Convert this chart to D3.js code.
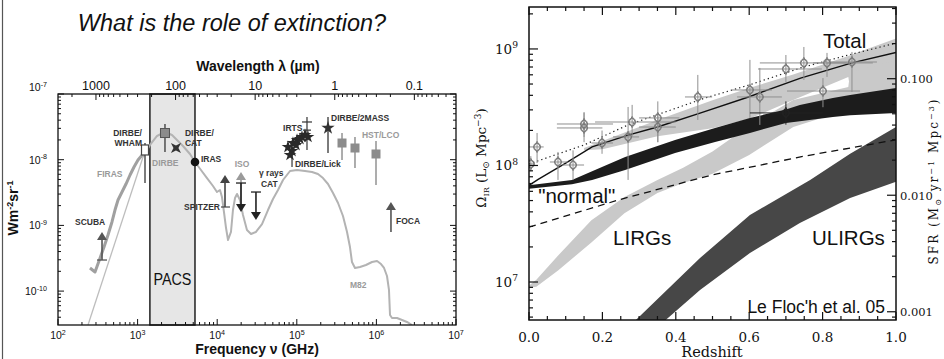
<!DOCTYPE html>
<html><head><meta charset="utf-8">
<script src="https://cdn.jsdelivr.net/npm/d3@7/dist/d3.min.js"></script>
<style>html,body{margin:0;padding:0;background:#fff;}svg{display:block;}</style>
</head><body>
<svg id="chart" width="944" height="359" xmlns="http://www.w3.org/2000/svg"></svg>
<script>
// ============ LEFT PANEL DATA: log10 frequency (GHz), log10 intensity (W m^-2 sr^-1) ============
const sedLogNu = [3.068,3.156,3.244,3.344,3.432,3.495,3.570,3.658,3.721,3.796,3.872,3.947,3.997,4.035,4.060,4.085,4.111,4.136,4.173,4.198,4.224,4.249,4.286,4.324,4.374,4.425,4.487,4.563,4.638,4.701,4.764,4.827,4.915,5.003,5.103,5.191,5.266,5.329,5.392,5.455,5.518,5.580,5.631,5.668,5.693,5.731,5.794,5.869,5.945,6.008,6.058,6.096,6.133,6.158,6.171,6.196,6.259,6.322,6.384,6.447];
const sedLogI  = [-7.959,-7.776,-7.639,-7.578,-7.624,-7.700,-7.791,-7.913,-8.035,-8.157,-8.279,-8.400,-8.492,-8.461,-8.568,-8.796,-9.040,-9.222,-9.100,-8.766,-8.583,-8.522,-8.613,-8.842,-9.070,-9.131,-9.100,-8.979,-8.766,-8.598,-8.461,-8.309,-8.172,-8.157,-8.172,-8.187,-8.218,-8.279,-8.370,-8.507,-8.659,-8.857,-9.100,-9.329,-9.557,-9.648,-9.633,-9.603,-9.557,-9.542,-9.588,-9.648,-9.770,-9.983,-10.364,-10.409,-10.409,-10.440,-10.470,-10.516];
const firasLogNu = [2.402,2.465,2.515,2.578,2.628,2.678,2.716,2.754,2.804,2.854,2.905,2.955,3.005,3.068];
const firasLogI  = [-9.648,-9.709,-9.542,-9.329,-9.146,-8.948,-8.766,-8.613,-8.492,-8.370,-8.233,-8.111,-8.005,-7.913];
const powerLawLogNu = [2.377,3.068];
const powerLawLogI  = [-10.516,-7.959];
const pacsLambdaUm = [210,57];

// measurement points with vertical error bars
const ptName   = ['DIRBE/WHAM','DIRBE','DIRBE/CAT','IRAS','DIRBE/2MASS','HST/LCO a','HST/LCO b','HST/LCO c'];
const ptLogNu  = [3.093,3.344,3.482,3.721,5.392,5.568,5.731,5.995];
const ptLogI   = [-7.852,-7.594,-7.822,-8.035,-7.518,-7.746,-7.822,-7.913];
const ptErrHi  = [-7.746,-7.457,null,null,-7.350,-7.594,-7.655,-7.715];
const ptErrLo  = [-8.355,-7.883,null,null,-7.898,-8.005,-8.126,-8.385];
const ptSymbol = ['openSquare','graySquare','star4','circle','star','graySquare','graySquare','graySquare'];

const irtsLogNu = [4.889,4.940,4.952,5.003,5.065,5.103,5.141,4.915,5.040,4.990];
const irtsLogI  = [-7.807,-7.868,-7.746,-7.700,-7.654,-7.624,-7.654,-7.928,-7.685,-7.776];

// limits (arrows): from -> to
const arrowName   = ['SCUBA','SPITZER','ISO','FOCA','ISO','CAT'];
const arrowLogNu  = [2.553,4.098,4.299,6.183,4.299,4.487];
const arrowFrom   = [-9.527,-8.720,-8.720,-9.100,-8.355,-8.492];
const arrowTo     = [-9.100,-8.233,-8.187,-8.644,-8.796,-8.918];
const arrowShade  = ['#555','#444','#9a9a9a','#555','#222','#222'];

const lblText  = ['DIRBE/','WHAM','DIRBE/','CAT','IRAS','DIRBE','FIRAS','SCUBA','SPITZER','ISO','\u03b3 rays','CAT','IRTS','DIRBE/2MASS','HST/LCO','DIRBE/Lick','FOCA','M82'];
const lblLogNu = [3.055,3.055,3.595,3.595,3.796,3.181,2.490,2.214,4.035,4.312,4.525,4.550,4.827,5.430,5.819,4.977,6.246,5.668];
const lblLogI  = [-7.639,-7.791,-7.639,-7.791,-8.035,-8.096,-8.263,-8.994,-8.766,-8.111,-8.248,-8.416,-7.563,-7.411,-7.670,-8.111,-8.979,-9.953];
const lblAnchor= ['end','end','start','start','start','start','start','start','end','middle','start','start','start','start','start','start','start','start'];
const lblGray  = [0,0,0,0,0,1,1,0,0,1,0,0,0,0,1,0,0,1];

const xDecades = [2,3,4,5,6,7];
const yDecades = [-7,-8,-9,-10];
const lambdaLabels = [1000,100,10,1,0.1];

// ============ RIGHT PANEL DATA: redshift, log10 Omega_IR (Lsun Mpc^-3) ============
const totalZ     = [0.15,0.2,0.35,0.5,0.6,0.72,0.87,0.875,1.0];
const totalUpper = [8.15,8.21,8.39,8.56,8.665,8.78,8.94,8.945,9.09];
const totalLower = [8.13,8.14,8.25,8.32,8.40,8.562,8.76,8.66,8.72];
const lirgZ      = [0,0.02,0.08,0.17,0.26,0.35,0.42,0.5,0.6,0.72,0.87,0.875,1.0];
const lirgUpper  = [6.97,7.02,7.23,7.53,7.73,7.876,7.98,8.12,8.34,8.562,8.674,8.80,8.90];
const lirgLower  = [6.95,6.96,7.10,7.34,7.59,7.764,7.85,7.93,8.09,8.33,8.48,8.48,8.56];
const normalZ     = [0,0.117,0.172,0.262,0.398,0.507,0.602,0.70,0.738,0.828,0.875,1.0];
const normalUpper = [7.83,7.876,7.95,8.073,8.219,8.322,8.408,8.48,8.519,8.58,8.605,8.665];
const normalLower = [7.80,7.84,7.876,7.961,8.107,8.202,8.279,8.365,8.38,8.416,8.43,8.451];
const ulirgUpperZ = [0.28,0.466,0.602,0.766,0.875,1.0];
const ulirgUpper  = [6.64,7.206,7.575,7.876,8.10,8.33];
const ulirgLowerZ = [0.36,0.466,0.602,0.738,0.875,1.0];
const ulirgLower  = [6.64,6.931,7.249,7.506,7.721,7.86];
const totalFitZ   = [0,0.025,0.1,0.172,0.27,0.35,0.466,0.6,0.74,0.88,1.0];
const totalFit    = [7.83,7.88,8.02,8.16,8.26,8.33,8.45,8.59,8.75,8.88,8.97];
const dottedZ     = [0,0.15,0.27,0.48,0.60,0.74,0.87,1.0];
const dottedLog   = [8.013,8.176,8.348,8.579,8.691,8.837,8.948,9.05];
const dashedZ     = [0,0.25,0.5,0.75,1.0];
const dashedLog   = [7.47,7.71,7.92,8.08,8.22];

const obsZ     = [0.005,0.022,0.079,0.12,0.15,0.15,0.199,0.27,0.281,0.351,0.351,0.46,0.602,0.629,0.70,0.749,0.812,0.880,0.801,0.70];
const obsLog   = [8.013,8.159,8.030,8.004,8.356,8.322,8.193,8.245,8.373,8.408,8.330,8.588,8.648,8.588,8.828,8.880,8.880,8.888,8.639,8.451];
const obsZLo   = [0.0,0.0,0.057,0.09,0.076,0.076,0.17,0.229,0.18,0.30,0.30,0.425,0.553,0.567,0.624,0.629,0.774,0.815,0.703,0.602];
const obsZHi   = [0.015,0.04,0.106,0.15,0.229,0.20,0.229,0.30,0.40,0.41,0.40,0.499,0.662,0.689,0.798,0.866,0.937,0.948,0.902,0.801];
const obsLogLo = [7.95,8.021,7.876,7.876,8.245,8.20,8.10,7.876,8.25,8.20,8.20,8.391,8.408,8.348,8.717,8.734,8.760,8.631,8.50,8.35];
const obsLogHi = [8.08,8.279,8.116,8.13,8.459,8.45,8.30,8.502,8.52,8.55,8.45,8.777,8.906,8.837,8.948,9.017,8.966,8.974,8.75,8.55];
const obsDark  = [0,0,0,0,0,0,0,0,0,0,0,0,0,0,0,0,0,0,0,1];

const zMajor = [0,0.2,0.4,0.6,0.8,1.0];
const omegaDecades = [7,8,9];
const sfrLabels = [0.001,0.010,0.100];
const SFR_PER_LIR = 1.8e-10;

const rLblText = ['Total','"normal"','LIRGs','ULIRGs'];
const rLblZ    = [0.801,0.025,0.229,0.771];
const rLblLog  = [9.009,7.678,7.318,7.318];

// ================= DRAWING =================
const svg = d3.select('#chart');
const defs = svg.append('defs');
const SANS = "'Liberation Sans', Arial, sans-serif";
const SERIF = "'DejaVu Serif', serif";
const p10 = v => Math.pow(10, v);

// slide frame line
svg.append('line').attr('x1',2.5).attr('x2',2.5).attr('y1',0).attr('y2',359).attr('stroke','#555').attr('stroke-width',1.2);

// ---------- LEFT ----------
const L = {x0:58, x1:456, y0:94, y1:325};
const xL = d3.scaleLog().domain([1e2,1e7]).range([L.x0,L.x1]);
const yL = d3.scaleLog().domain([p10(-10.516),1e-7]).range([L.y1,L.y0]);
const C_UM_GHZ = 299792.458;
const lamL = d3.scaleLog().domain([C_UM_GHZ/1e2, C_UM_GHZ/1e7]).range([L.x0,L.x1]);
const PX = v => xL(p10(v)), PY = v => yL(p10(v));

defs.append('clipPath').attr('id','clipL').append('rect')
  .attr('x',L.x0).attr('y',L.y0).attr('width',L.x1-L.x0).attr('height',L.y1-L.y0);

svg.append('text').attr('x',232).attr('y',31).attr('text-anchor','middle')
  .attr('font-family',SANS).attr('font-style','italic').attr('font-size',23.5).attr('fill','#111')
  .text('What is the role of extinction?');

// PACS box
const pacsX0 = xL(C_UM_GHZ/pacsLambdaUm[0]), pacsX1 = xL(C_UM_GHZ/pacsLambdaUm[1]);
svg.append('rect').attr('x',pacsX0).attr('y',L.y0).attr('width',pacsX1-pacsX0).attr('height',L.y1-L.y0)
  .attr('fill','#e6e6e6').attr('stroke','#111').attr('stroke-width',1.4);

const gLc = svg.append('g').attr('clip-path','url(#clipL)');
const lineL = d3.line().x(d=>PX(d[0])).y(d=>PY(d[1]));
gLc.append('path').attr('d',lineL(d3.zip(powerLawLogNu,powerLawLogI))).attr('fill','none').attr('stroke','#bdbdbd').attr('stroke-width',1.3);
gLc.append('path').attr('d',lineL(d3.zip(firasLogNu,firasLogI))).attr('fill','none').attr('stroke','#a0a0a0').attr('stroke-width',3).attr('stroke-linejoin','round');
gLc.append('path').attr('d',lineL(d3.zip(sedLogNu,sedLogI))).attr('fill','none').attr('stroke','#b3b3b3').attr('stroke-width',2).attr('stroke-linejoin','round');

svg.append('text').attr('x',(pacsX0+pacsX1)/2).attr('y',PY(-9.907)).attr('text-anchor','middle')
  .attr('font-family',SANS).attr('font-size',16).attr('textLength',38).attr('lengthAdjust','spacingAndGlyphs').attr('fill','#111').text('PACS');

// arrows
arrowName.forEach((n,i)=>{
  const x = PX(arrowLogNu[i]), yf = PY(arrowFrom[i]), yt = PY(arrowTo[i]);
  const dir = yt < yf ? -1 : 1; // -1 up
  const col = arrowShade[i];
  svg.append('line').attr('x1',x).attr('x2',x).attr('y1',yf).attr('y2',yt-dir*7).attr('stroke',col).attr('stroke-width',1.6);
  svg.append('path').attr('d',`M${x-5},${yt-dir*8}L${x+5},${yt-dir*8}L${x},${yt}Z`).attr('fill',col);
  if (n==='SCUBA' || n==='CAT' || (n==='ISO' && dir>0)) {
    svg.append('line').attr('x1',x-5).attr('x2',x+5).attr('y1',yf).attr('y2',yf).attr('stroke',col).attr('stroke-width',1.3);
  }
  if (n==='SPITZER') {
    svg.append('line').attr('x1',PX(4.035)+1).attr('x2',x+5).attr('y1',yf).attr('y2',yf).attr('stroke','#444').attr('stroke-width',1.2);
  }
});

// error bars and markers
ptName.forEach((n,i)=>{
  if (ptErrHi[i]!==null) {
    svg.append('line').attr('x1',PX(ptLogNu[i])).attr('x2',PX(ptLogNu[i])).attr('y1',PY(ptErrHi[i])).attr('y2',PY(ptErrLo[i]))
      .attr('stroke', ptSymbol[i]==='graySquare' && i>4 ? '#8a8a8a' : '#444').attr('stroke-width',1.4);
  }
});
const star4 = {draw(ctx,size){const r=Math.sqrt(size)*0.75, ri=r*0.35;for(let k=0;k<8;k++){const a=Math.PI/4+k*Math.PI/4;const rr=k%2?ri:r;const px=rr*Math.cos(a),py=rr*Math.sin(a);if(k===0)ctx.moveTo(px,py);else ctx.lineTo(px,py);}ctx.closePath();}};
ptName.forEach((n,i)=>{
  const x=PX(ptLogNu[i]), y=PY(ptLogI[i]);
  const s = ptSymbol[i];
  if (s==='openSquare') svg.append('rect').attr('x',x-3.5).attr('y',y-5).attr('width',7).attr('height',10).attr('fill','#fff').attr('stroke','#444').attr('stroke-width',1.2);
  else if (s==='graySquare') svg.append('rect').attr('x',x-4.5).attr('y',y-4.5).attr('width',9).attr('height',9).attr('fill','#8c8c8c').attr('stroke', i===1?'#555':'none');
  else if (s==='circle') svg.append('circle').attr('cx',x).attr('cy',y).attr('r',4.3).attr('fill','#111');
  else if (s==='star') svg.append('path').attr('transform',`translate(${x},${y})`).attr('d',d3.symbol().type(d3.symbolStar).size(55)()).attr('fill','#333');
  else if (s==='star4') svg.append('path').attr('transform',`translate(${x},${y})`).attr('d',d3.symbol().type(star4).size(90)()).attr('fill','#333');
});
// IRTS
svg.append('line').attr('x1',PX(5.128)).attr('x2',PX(5.128)).attr('y1',PY(-7.350)).attr('y2',PY(-7.852)).attr('stroke','#333').attr('stroke-width',1.2);
svg.append('line').attr('x1',PX(5.128)-5).attr('x2',PX(5.128)+5).attr('y1',PY(-7.426)).attr('y2',PY(-7.426)).attr('stroke','#333').attr('stroke-width',1.2);
svg.append('line').attr('x1',PX(5.128)-4).attr('x2',PX(5.128)+4).attr('y1',PY(-7.55)).attr('y2',PY(-7.55)).attr('stroke','#333').attr('stroke-width',1.2);
svg.append('line').attr('x1',PX(4.940)).attr('x2',PX(4.940)).attr('y1',PY(-7.883)).attr('y2',PY(-8.111)).attr('stroke','#333').attr('stroke-width',1.2);
irtsLogNu.forEach((v,i)=>{
  svg.append('path').attr('transform',`translate(${PX(v)},${PY(irtsLogI[i])})`).attr('d',d3.symbol().type(d3.symbolStar).size(50)()).attr('fill','#2a2a2a');
});

// labels
lblText.forEach((t,i)=>{
  svg.append('text').attr('x',PX(lblLogNu[i])).attr('y',PY(lblLogI[i])).attr('text-anchor',lblAnchor[i])
    .attr('font-family',SANS).attr('font-weight','bold').attr('font-size',8.5)
    .attr('fill', lblGray[i] ? '#9a9a9a' : '#333').text(t);
});

// frame
svg.append('rect').attr('x',L.x0).attr('y',L.y0).attr('width',L.x1-L.x0).attr('height',L.y1-L.y0).attr('fill','none').attr('stroke','#111').attr('stroke-width',1.3);

// ticks left panel
const tk = svg.append('g').attr('stroke','#111').attr('stroke-width',1);
xL.ticks().forEach(v=>{
  const x = xL(v); const maj = Math.abs(Math.log10(v)-Math.round(Math.log10(v)))<1e-9; const len = maj?6:3;
  tk.append('line').attr('x1',x).attr('x2',x).attr('y1',L.y1).attr('y2',L.y1-len);
});
lamL.ticks().forEach(v=>{
  const x = lamL(v); if (x<L.x0+0.5||x>L.x1-0.5) return;
  const maj = Math.abs(Math.log10(v)-Math.round(Math.log10(v)))<1e-9; const len = maj?6:3;
  tk.append('line').attr('x1',x).attr('x2',x).attr('y1',L.y0).attr('y2',L.y0+len);
});
yL.ticks().forEach(v=>{
  const y = yL(v); const maj = Math.abs(Math.log10(v)-Math.round(Math.log10(v)))<1e-9; const len = maj?6:3;
  tk.append('line').attr('x1',L.x0).attr('x2',L.x0+len).attr('y1',y).attr('y2',y);
  tk.append('line').attr('x1',L.x1).attr('x2',L.x1-len).attr('y1',y).attr('y2',y);
});
function supLabel(x,y,base,sup,anchor,size,family,weight){
  const t = svg.append('text').attr('x',x).attr('y',y).attr('text-anchor',anchor)
    .attr('font-family',family).attr('font-size',size).attr('fill','#111');
  if (weight) t.attr('font-weight',weight);
  t.append('tspan').text(base);
  t.append('tspan').attr('dy',-size*0.42).attr('font-size',size*0.68).text(sup);
  return t;
}
xDecades.forEach(n=> supLabel(xL(p10(n)), 339, '10', String(n), 'middle', 10.5, SANS));
yDecades.forEach(n=> supLabel(47, yL(p10(n)) + (n===-7 ? -3 : 4), '10', '-'+(-n), 'end', 10.5, SANS));
lambdaLabels.forEach(v=> svg.append('text').attr('x',lamL(v)).attr('y',90).attr('text-anchor','middle')
  .attr('font-family',SANS).attr('font-size',12.5).attr('fill','#111').text(String(v)));

svg.append('text').attr('x',258).attr('y',71).attr('text-anchor','middle').attr('font-family',SANS)
  .attr('font-weight','bold').attr('font-size',14).attr('fill','#111').text('Wavelength \u03bb (\u00b5m)');
svg.append('text').attr('x',257).attr('y',354).attr('text-anchor','middle').attr('font-family',SANS)
  .attr('font-weight','bold').attr('font-size',14).attr('fill','#111').text('Frequency \u03bd (GHz)');
{
  const t = svg.append('text').attr('transform','translate(18,208) rotate(-90)').attr('text-anchor','middle')
    .attr('font-family',SANS).attr('font-weight','bold').attr('font-size',14).attr('fill','#111');
  t.append('tspan').text('Wm');
  t.append('tspan').attr('dy',-5).attr('font-size',9).text('-2');
  t.append('tspan').attr('dy',5).text('sr');
  t.append('tspan').attr('dy',-5).attr('font-size',9).text('-1');
}

// ---------- RIGHT ----------
const R = {x0:529, x1:896, y0:7, y1:320};
const xR = d3.scaleLinear().domain([0,1]).range([R.x0,R.x1]);
const yR = d3.scaleLog().domain([p10(6.674),p10(9.36)]).range([R.y1,R.y0]);
const yS = d3.scaleLog().domain([p10(6.674)*SFR_PER_LIR, p10(9.36)*SFR_PER_LIR]).range([R.y1,R.y0]);
const RY = v => yR(p10(v));
defs.append('clipPath').attr('id','clipR').append('rect')
  .attr('x',R.x0).attr('y',R.y0).attr('width',R.x1-R.x0).attr('height',R.y1-R.y0);
const gR = svg.append('g').attr('clip-path','url(#clipR)');
const lineR = d3.line().x(d=>xR(d[0])).y(d=>RY(d[1]));
function band(zU,up,zLo,lo,fill){
  const pts = d3.zip(zU,up).concat(d3.zip(zLo,lo).reverse());
  gR.append('path').attr('d',lineR(pts)+'Z').attr('fill',fill).attr('stroke','none');
}
band(totalZ,totalUpper,totalZ,totalLower,'#c9c9c9');
band(lirgZ,lirgUpper,lirgZ,lirgLower,'#c9c9c9');
band(normalZ,normalUpper,normalZ,normalLower,'#1c1c1c');
band(ulirgUpperZ,ulirgUpper,ulirgLowerZ,ulirgLower,'#474747');

gR.append('path').attr('d',lineR(d3.zip(dashedZ,dashedLog))).attr('fill','none').attr('stroke','#111').attr('stroke-width',1.3).attr('stroke-dasharray','7,5');
gR.append('path').attr('d',lineR(d3.zip(totalFitZ,totalFit))).attr('fill','none').attr('stroke','#111').attr('stroke-width',1.4);
gR.append('path').attr('d',lineR(d3.zip(dottedZ,dottedLog))).attr('fill','none').attr('stroke','#222').attr('stroke-width',1.2).attr('stroke-dasharray','1.3,3');

// observations
obsZ.forEach((z,i)=>{
  const col = obsDark[i] ? '#222' : '#8f8f8f';
  gR.append('line').attr('x1',xR(obsZLo[i])).attr('x2',xR(obsZHi[i])).attr('y1',RY(obsLog[i])).attr('y2',RY(obsLog[i])).attr('stroke',col).attr('stroke-width',1);
  gR.append('line').attr('x1',xR(z)).attr('x2',xR(z)).attr('y1',RY(obsLogLo[i])).attr('y2',RY(obsLogHi[i])).attr('stroke',col).attr('stroke-width',1);
});
obsZ.forEach((z,i)=>{
  const col = obsDark[i] ? '#222' : '#7a7a7a';
  const x=xR(z), y=RY(obsLog[i]);
  gR.append('circle').attr('cx',x).attr('cy',y).attr('r',3.6).attr('fill','none').attr('stroke',col).attr('stroke-width',1);
  gR.append('path').attr('transform',`translate(${x},${y})`).attr('d',d3.symbol().type(d3.symbolDiamond).size(36)()).attr('fill','none').attr('stroke',col).attr('stroke-width',1);
});

// text in plot
rLblText.forEach((t,i)=>{
  svg.append('text').attr('x',xR(rLblZ[i])).attr('y',RY(rLblLog[i])).attr('font-family',SANS).attr('font-size',20.5).attr('fill','#111').text(t);
});
svg.append('text').attr('x',xR(0.970)).attr('y',RY(6.734)).attr('text-anchor','end').attr('font-family',SANS).attr('font-size',17.5).attr('fill','#111').text("Le Floc'h et al. 05");

// frame
svg.append('rect').attr('x',R.x0).attr('y',R.y0).attr('width',R.x1-R.x0).attr('height',R.y1-R.y0).attr('fill','none').attr('stroke','#111').attr('stroke-width',1.5);

const tr = svg.append('g').attr('stroke','#111').attr('stroke-width',1.2);
d3.range(0,1.0001,0.05).forEach(z=>{
  const x = xR(z); const maj = Math.abs(z*5-Math.round(z*5))<1e-6; const len = maj?8:4;
  tr.append('line').attr('x1',x).attr('x2',x).attr('y1',R.y1).attr('y2',R.y1-len);
  tr.append('line').attr('x1',x).attr('x2',x).attr('y1',R.y0).attr('y2',R.y0+len);
});
yR.ticks().forEach(v=>{
  const y = yR(v); const maj = Math.abs(Math.log10(v)-Math.round(Math.log10(v)))<1e-9; const len = maj?9:4;
  tr.append('line').attr('x1',R.x0).attr('x2',R.x0+len).attr('y1',y).attr('y2',y);
});
yS.ticks().forEach(v=>{
  const y = yS(v); const lg=Math.log10(v); const maj = Math.abs(lg-Math.round(lg))<1e-9; const len = maj?9:4;
  tr.append('line').attr('x1',R.x1).attr('x2',R.x1-len).attr('y1',y).attr('y2',y);
});
zMajor.forEach(z=> svg.append('text').attr('x',xR(z)).attr('y',342).attr('text-anchor','middle')
  .attr('font-family',SERIF).attr('font-size',13.5).attr('fill','#111').text(z.toFixed(1)));
omegaDecades.forEach(n=> supLabel(518, yR(p10(n))+5, '10', String(n), 'end', 13.5, SERIF));
sfrLabels.forEach(v=> svg.append('text').attr('x',900).attr('y',yS(v)+4.5).attr('font-family',SERIF)
  .attr('font-size',11.5).attr('fill','#111').text(v.toFixed(3)));
svg.append('text').attr('x',712).attr('y',357).attr('text-anchor','middle').attr('font-family',SERIF)
  .attr('font-size',14.5).attr('fill','#111').text('Redshift');
{
  const t = svg.append('text').attr('transform','translate(486,158) rotate(-90)').attr('text-anchor','middle')
    .attr('font-family',SERIF).attr('font-size',13.5).attr('fill','#111');
  t.append('tspan').text('\u03a9');
  t.append('tspan').attr('dy',3).attr('font-size',8).text('IR');
  t.append('tspan').attr('dy',-3).text(' (L');
  t.append('tspan').attr('dy',3).attr('font-size',9).text('\u2299');
  t.append('tspan').attr('dy',-3).text(' Mpc');
  t.append('tspan').attr('dy',-5).attr('font-size',9).text('\u22123');
  t.append('tspan').attr('dy',5).text(')');
}
{
  const t = svg.append('text').attr('transform','translate(938,182) rotate(-90)').attr('text-anchor','middle')
    .attr('font-family',SERIF).attr('font-size',12).attr('fill','#111')
    .attr('textLength',165).attr('lengthAdjust','spacing');
  t.append('tspan').text('SFR (M');
  t.append('tspan').attr('dy',3).attr('font-size',8).text('\u2299');
  t.append('tspan').attr('dy',-3).text(' yr');
  t.append('tspan').attr('dy',-4).attr('font-size',8).text('\u22121');
  t.append('tspan').attr('dy',4).text(' Mpc');
  t.append('tspan').attr('dy',-4).attr('font-size',8).text('\u22123');
  t.append('tspan').attr('dy',4).text(')');
}
</script>
</body></html>
